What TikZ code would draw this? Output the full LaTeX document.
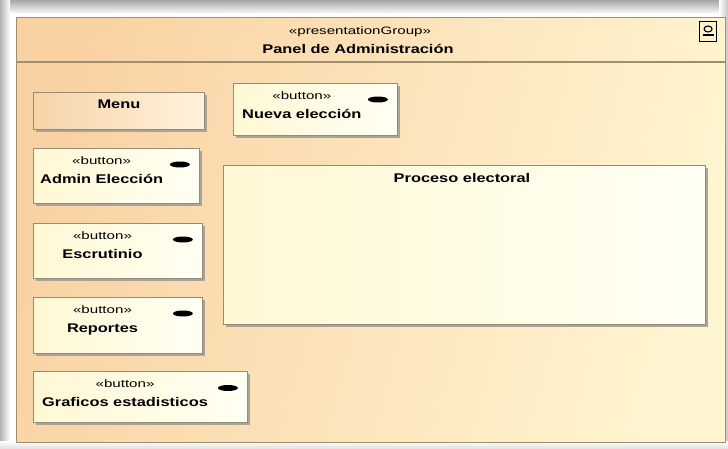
\documentclass[tikz,border=0pt]{standalone}
\usepackage{fontspec}
\setmainfont{Liberation Sans}
\newfontfamily\stereofont{Liberation Sans}[FakeStretch=1.4]
\newfontfamily\labelfont{Liberation Sans}[FakeStretch=1.3]
\usetikzlibrary{shadows,calc}

\definecolor{panelL}{RGB}{249,210,164}
\definecolor{panelR}{RGB}{255,245,208}
\definecolor{frameline}{RGB}{160,142,112}
\definecolor{boxline}{RGB}{150,140,118}
\definecolor{btnL}{RGB}{255,248,212}
\definecolor{btnR}{RGB}{255,255,244}
\definecolor{menuL}{RGB}{247,211,168}
\definecolor{menuR}{RGB}{255,243,220}
\definecolor{shadowgray}{RGB}{168,164,156}

\tikzset{
  panelbox/.style={draw=frameline, line width=1.2pt, left color=panelL, right color=panelR, shading angle=75, inner sep=0pt},
  btnbox/.style={draw=boxline, line width=0.9pt, left color=btnL, right color=btnR, inner sep=0pt,
    general shadow={shadow xshift=2.5pt, shadow yshift=-2.5pt, fill=shadowgray, opacity=1}},
  menubox/.style={btnbox, left color=menuL, right color=menuR},
  stereo/.style={font=\stereofont\fontsize{10.8}{12}\selectfont, inner sep=0pt},
  bname/.style={font=\labelfont\bfseries\fontsize{12.6}{14}\selectfont, inner sep=0pt},
  hdrline/.style={draw=frameline, line width=1.2pt},
  evt/.style={fill=black},
}

\begin{document}
\begin{tikzpicture}[x=1pt,y=-1pt]
\useasboundingbox (0,0) rectangle (728,449);

% soft frame around the canvas
\fill[white] (0,0) rectangle (728,449);
\shade[top color=gray!70, bottom color=white] (0,0) rectangle (728,14);
\shade[left color=gray!60, right color=white] (0,0) rectangle (10,449);
\shade[left color=white, right color=gray!45] (719,0) rectangle (728,449);
\shade[top color=white, bottom color=gray!25] (0,441) rectangle (728,449);

% presentation group panel
\node[panelbox, minimum width=709pt, minimum height=425pt, anchor=north west] (panel) at (16,17) {};
\draw[hdrline] (panel.west |- 0,62) -- (panel.east |- 0,62);
\node[stereo, anchor=base] (pgS) at (360,35) {«presentationGroup»};
\node[bname, anchor=base] (pgN) at (358,53.5) {Panel de Administración};

% corner icon
\node[draw=black, line width=1.2pt, minimum width=17pt, minimum height=20pt, inner sep=0pt, anchor=north west] (icon) at (699,21) {};
\draw[line width=1.1pt] ($(icon.north)+(0,8)$) ellipse [x radius=4pt, y radius=3pt];
\draw[line width=1.3pt] ($(icon.center)+(-5.5,3.5)$) -- ($(icon.center)+(5.5,3.5)$);

% menu
\node[menubox, minimum width=171pt, minimum height=37pt, anchor=north west] (menu) at (33,92) {};
\node[bname, anchor=base] (menuN) at (menu.north |- 0,108.5) {Menu};

% buttons
\node[btnbox, minimum width=164pt, minimum height=52pt, anchor=north west] (nueva) at (233,83) {};
\node[bname, anchor=base west] (nuevaN) at (242,118.5) {Nueva elección};
\node[stereo, anchor=base] (nuevaS) at (nuevaN.base |- 0,99.5) {«button»};
\fill[evt] ($(nueva.north east)+(-20,16.5)$) ellipse [x radius=10pt, y radius=3pt];

\node[btnbox, minimum width=166pt, minimum height=55pt, anchor=north west] (admin) at (33,148) {};
\node[bname, anchor=base west] (adminN) at (40,183.5) {Admin Elección};
\node[stereo, anchor=base] (adminS) at (adminN.base |- 0,164.5) {«button»};
\fill[evt] ($(admin.north east)+(-20,16.5)$) ellipse [x radius=10pt, y radius=3pt];

\node[btnbox, minimum width=169pt, minimum height=55pt, anchor=north west] (escr) at (33,223) {};
\node[bname, anchor=base] (escrN) at (102.5,258.5) {Escrutinio};
\node[stereo, anchor=base] (escrS) at (escrN.base |- 0,239.5) {«button»};
\fill[evt] ($(escr.north east)+(-20,16.5)$) ellipse [x radius=10pt, y radius=3pt];

\node[btnbox, minimum width=169pt, minimum height=56pt, anchor=north west] (rep) at (33,297) {};
\node[bname, anchor=base] (repN) at (102.5,332.5) {Reportes};
\node[stereo, anchor=base] (repS) at (repN.base |- 0,313.5) {«button»};
\fill[evt] ($(rep.north east)+(-20,16.5)$) ellipse [x radius=10pt, y radius=3pt];

\node[btnbox, minimum width=214pt, minimum height=51pt, anchor=north west] (graf) at (33,371) {};
\node[bname, anchor=base west] (grafN) at (42,406.5) {Graficos estadisticos};
\node[stereo, anchor=base] (grafS) at (grafN.base |- 0,387.5) {«button»};
\fill[evt] ($(graf.north east)+(-20,17)$) ellipse [x radius=10pt, y radius=3pt];

% content area
\node[btnbox, minimum width=482pt, minimum height=159pt, anchor=north west] (proc) at (223,165) {};
\node[bname, anchor=base] (procN) at (462,183) {Proceso electoral};
\end{tikzpicture}
\end{document}
